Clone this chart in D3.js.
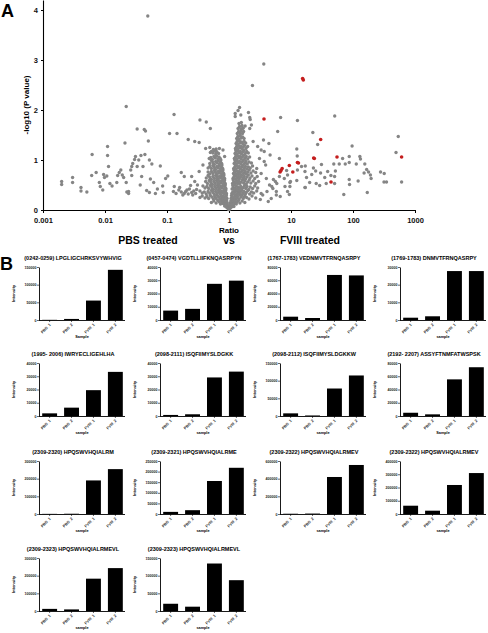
<!DOCTYPE html>
<html><head><meta charset="utf-8">
<script src="https://cdn.jsdelivr.net/npm/d3@7"></script>
<style>
html,body{margin:0;padding:0;background:#fff;}
svg{display:block;font-family:"Liberation Sans",Arial,sans-serif;}
</style></head><body>
<svg id="fig" width="488" height="633"></svg>
<script>
// ---------- Panel A data ----------
const xTickValues = [0.001, 0.01, 0.1, 1, 10, 100, 1000];
const xTickLabels = ["0.001", "0.01", "0.1", "1", "10", "100", "1000"];
const yTickValues = [0, 1, 2, 3, 4];

// sparse grey peptides [ratio, -log10 p]
const sparseGray = [
[0.049,3.88],[0.022,2.07],[0.0020,0.57],[0.0020,0.51],[0.0030,0.65],[0.0030,0.55],[0.0041,0.45],[0.0041,0.38],[0.0051,0.36],[0.0062,1.11],[0.0061,0.69],[0.0072,0.75],[0.0081,0.55],[0.0084,0.47],[0.0092,0.40],[0.0095,0.71],[0.0098,0.65],[0.0107,0.68],[0.011,1.27],[0.011,1.09],[0.0114,0.87],[0.012,0.53],[0.013,0.48],[0.0155,0.55],[0.016,0.69],[0.017,0.75],[0.018,0.80],[0.019,0.70],[0.020,0.65],[0.021,1.34],[0.022,0.55],[0.0225,0.36],[0.024,0.33],[0.024,0.37],[0.026,0.80],[0.027,0.69],[0.028,0.93],[0.027,0.87],[0.030,1.01],[0.031,1.07],[0.033,1.62],[0.033,0.87],[0.035,1.0],[0.037,0.50],[0.038,1.09],[0.039,0.67],[0.041,0.87],[0.043,1.61],[0.044,1.11],[0.045,1.58],[0.047,0.39],[0.050,1.38],[0.052,1.00],[0.054,0.62],[0.057,0.92],[0.052,0.35],[0.061,0.55],[0.065,0.33],[0.07,0.42],[0.078,0.88],[0.085,0.48],[0.087,0.35],[0.095,0.63],[0.103,0.68],[0.11,1.53],[0.13,1.91],[0.131,0.47],[0.145,1.53],[0.16,0.45],[0.17,0.75],[0.19,0.33],[0.21,0.40],[0.22,1.41],[0.24,0.49],[0.28,1.37],[0.33,1.35],[0.34,1.80],[0.43,1.76],[0.50,1.63],[0.30,0.41],[0.25,0.35],
[0.127,0.37],[0.14,0.33],[0.155,0.40],[0.17,0.36],[0.18,0.30],[0.2,0.37],[0.22,0.32],[0.23,0.42],[0.26,0.30],[0.27,0.38],[0.29,0.33],
[0.42,1.23],[0.49,1.25],[0.62,1.17],[0.7,1.23],[0.8,1.2],[0.85,1.07],[0.38,0.9],[0.33,0.77],[0.19,0.67],[0.25,0.67],[0.28,0.57],[0.31,0.5],
[3.64,2.92],[2.39,2.49],[6.8,1.85],[12.7,1.79],[50.7,1.88],[6.1,1.57],[22.5,1.55],[26.9,1.31],[96.7,1.28],[537,1.47],[494,1.15],[12.4,1.22],[12.6,1.08],[6.5,1.03],[87,1.07],[129,1.07],[132,1.02],[113,0.92],[87,0.95],[68,1.03],[75,0.92],[49,0.92],[60,0.92],[31,0.91],[17,0.88],[155,0.92],[166,0.81],[178,0.76],[191,0.70],[196,0.63],[151,0.74],[278,0.76],[319,0.73],[316,0.56],[347,0.56],[608,0.56],[170,0.35],[71,0.31],[121,0.58],[87,0.61],[88,0.51],[50.5,0.67],[52,0.78],[39,0.77],[44,0.69],[35,0.65],[37,0.53],[50.5,0.53],[30,0.74],[25,0.78],[23,0.84],[21.6,0.71],[17.8,0.65],[16.8,0.77],[14.8,0.87],[12.7,0.80],[20,0.55],[25.5,0.53],[29,0.49],[16.8,0.45],[12.4,0.59],[9.6,0.55],[8.5,0.79],[8.8,0.70],[7.8,0.63],[6.5,0.67],[5.9,0.53],[5.2,0.61],[8.0,0.47],[9.6,0.47],[6.7,0.27],[8.8,0.37],[9.4,0.31],[17,0.45],[9.8,0.57],[5.8,0.30],
[1.48,2.05],[1.40,1.99],[2.06,1.95],[1.26,1.93],[1.26,1.87],[1.55,1.9],[2.16,1.85],[2.2,1.81],[2.3,1.7],[1.82,1.68],[1.65,1.63],[2.16,1.63],[2.45,1.37],[2.9,1.27],[3.3,1.2],[3.7,1.17],[3.1,1.03],[3.7,0.97],[2.8,0.83],[3.3,0.73],[4.0,0.63],[4.5,0.5],[5.1,0.43],[5.8,0.37],[3.5,0.3],[4.3,0.17],[4.8,0.23],[4.4,1.33],[3.6,1.4],[4.1,0.37],[4.9,0.47],[5.6,0.57],[3.9,0.9],[4.6,1.1]
];

// dense cluster, ratio > 1  [ratio, -log10 p]
const clusterRight = [
[1.01,0.01],[1.02,0.04],[1.04,0.03],[1.03,0.07],[1.06,0.05],[1.05,0.09],[1.08,0.08],[1.1,0.06],[1.07,0.11],[1.12,0.1],[1.15,0.09],[1.2,0.07],
[1.05,0.14],[1.09,0.13],[1.11,0.16],[1.14,0.12],[1.18,0.15],[1.07,0.18],[1.13,0.19],[1.22,0.13],[1.26,0.17],[1.31,0.12],[1.19,0.2],[1.35,0.16],[1.42,0.19],[1.5,0.14],[1.63,0.18],[1.28,0.21],[1.8,0.15],
[1.08,0.23],[1.12,0.26],[1.16,0.22],[1.21,0.25],[1.25,0.28],[1.33,0.24],[1.38,0.27],[1.46,0.22],[1.55,0.26],[1.6,0.29],[1.7,0.23],[1.78,0.27],[1.92,0.25],[2.1,0.22],[2.35,0.28],[2.7,0.24],[3.2,0.21],[1.1,0.29],[1.3,0.3],
[1.11,0.33],[1.15,0.36],[1.19,0.32],[1.23,0.35],[1.28,0.38],[1.36,0.33],[1.41,0.37],[1.48,0.31],[1.52,0.35],[1.59,0.39],[1.67,0.33],[1.74,0.37],[1.83,0.31],[1.9,0.35],[2.02,0.39],[2.15,0.32],[2.3,0.36],[2.5,0.34],[2.8,0.38],[3.3,0.33],[1.32,0.4],[1.45,0.39],
[1.12,0.42],[1.17,0.45],[1.21,0.41],[1.26,0.44],[1.31,0.48],[1.35,0.42],[1.4,0.46],[1.47,0.43],[1.55,0.47],[1.62,0.42],[1.7,0.45],[1.78,0.49],[1.86,0.43],[1.95,0.47],[2.08,0.41],[2.2,0.46],[2.4,0.43],[2.6,0.48],[2.9,0.44],[1.15,0.49],[1.25,0.5],
[1.14,0.53],[1.19,0.56],[1.23,0.52],[1.29,0.55],[1.33,0.59],[1.38,0.53],[1.44,0.57],[1.5,0.52],[1.57,0.56],[1.65,0.6],[1.72,0.54],[1.8,0.58],[1.9,0.52],[2.0,0.56],[2.12,0.6],[2.25,0.54],[2.45,0.58],[2.7,0.53],[3.0,0.57],[1.17,0.6],
[1.16,0.63],[1.2,0.66],[1.25,0.62],[1.3,0.68],[1.35,0.64],[1.41,0.67],[1.47,0.62],[1.53,0.66],[1.6,0.69],[1.68,0.63],[1.76,0.67],[1.85,0.62],[1.95,0.66],[2.05,0.7],[2.18,0.64],[2.35,0.68],[2.6,0.63],[2.85,0.67],[1.22,0.7],[1.43,0.71],
[1.18,0.73],[1.23,0.76],[1.28,0.72],[1.33,0.78],[1.39,0.74],[1.45,0.77],[1.51,0.72],[1.58,0.76],[1.65,0.79],[1.72,0.73],[1.81,0.77],[1.9,0.72],[2.0,0.76],[2.12,0.8],[2.25,0.74],[2.45,0.78],[2.7,0.75],[1.2,0.8],
[1.19,0.83],[1.24,0.86],[1.29,0.82],[1.34,0.88],[1.4,0.84],[1.46,0.87],[1.53,0.82],[1.6,0.86],[1.67,0.89],[1.75,0.83],[1.84,0.87],[1.93,0.82],[2.05,0.86],[2.2,0.84],[2.4,0.88],[1.27,0.9],
[1.21,0.93],[1.26,0.96],[1.31,0.92],[1.36,0.98],[1.42,0.94],[1.48,0.97],[1.55,0.92],[1.62,0.96],[1.7,0.99],[1.78,0.93],[1.87,0.97],[1.97,0.92],[2.1,0.96],[2.3,0.94],[1.24,1.0],
[1.22,1.03],[1.27,1.06],[1.33,1.02],[1.38,1.08],[1.44,1.04],[1.5,1.07],[1.57,1.02],[1.64,1.06],[1.72,1.09],[1.8,1.03],[1.9,1.07],[2.0,1.02],[2.15,1.06],[1.3,1.1],
[1.25,1.13],[1.3,1.16],[1.35,1.12],[1.4,1.18],[1.46,1.14],[1.52,1.17],[1.59,1.12],[1.66,1.16],[1.74,1.19],[1.83,1.13],[1.93,1.17],[2.05,1.14],[1.28,1.2],
[1.27,1.23],[1.32,1.26],[1.38,1.22],[1.43,1.28],[1.49,1.24],[1.56,1.27],[1.63,1.22],[1.7,1.26],[1.78,1.29],[1.88,1.23],[2.0,1.27],[1.35,1.3],
[1.3,1.33],[1.35,1.37],[1.41,1.32],[1.47,1.38],[1.53,1.34],[1.6,1.36],[1.68,1.32],[1.76,1.37],[1.86,1.34],[1.44,1.4],
[1.33,1.43],[1.39,1.47],[1.45,1.42],[1.52,1.48],[1.58,1.44],[1.66,1.46],[1.75,1.43],[1.5,1.5],
[1.36,1.53],[1.43,1.57],[1.5,1.54],[1.57,1.58],[1.65,1.53],[1.72,1.57],
[1.4,1.63],[1.48,1.67],[1.55,1.62],[1.62,1.69],[1.7,1.64],[1.45,1.73],[1.58,1.75]
];

// dense cluster, ratio < 1  [ratio, -log10 p]
const clusterLeft = [
[0.99,0.01],[0.98,0.04],[0.96,0.03],[0.97,0.07],[0.94,0.05],[0.95,0.09],[0.92,0.08],[0.9,0.06],[0.93,0.11],[0.88,0.1],[0.85,0.08],
[0.94,0.14],[0.91,0.13],[0.89,0.16],[0.86,0.12],[0.83,0.15],[0.92,0.18],[0.87,0.19],[0.8,0.13],[0.77,0.17],[0.73,0.12],[0.82,0.2],[0.7,0.16],[0.66,0.19],[0.62,0.14],[0.57,0.18],[0.75,0.21],[0.52,0.15],
[0.93,0.23],[0.9,0.26],[0.87,0.22],[0.84,0.25],[0.81,0.28],[0.78,0.24],[0.75,0.27],[0.71,0.22],[0.68,0.26],[0.65,0.29],[0.62,0.23],[0.59,0.27],[0.56,0.22],[0.53,0.26],[0.5,0.29],[0.47,0.23],[0.44,0.27],[0.41,0.24],[0.37,0.28],[0.34,0.25],[0.91,0.3],
[0.91,0.33],[0.88,0.36],[0.85,0.32],[0.82,0.38],[0.79,0.34],[0.76,0.37],[0.73,0.31],[0.7,0.35],[0.67,0.39],[0.64,0.33],[0.61,0.37],[0.58,0.31],[0.55,0.35],[0.52,0.39],[0.49,0.33],[0.46,0.37],[0.43,0.32],[0.4,0.36],[0.37,0.34],[0.34,0.38],[0.89,0.4],
[0.89,0.43],[0.86,0.46],[0.83,0.42],[0.8,0.48],[0.77,0.44],[0.74,0.47],[0.71,0.41],[0.68,0.45],[0.65,0.49],[0.62,0.43],[0.59,0.47],[0.56,0.41],[0.53,0.45],[0.5,0.49],[0.47,0.43],[0.44,0.47],[0.41,0.44],[0.38,0.48],[0.87,0.5],
[0.87,0.53],[0.84,0.56],[0.81,0.52],[0.78,0.58],[0.75,0.54],[0.72,0.57],[0.69,0.51],[0.66,0.55],[0.63,0.59],[0.6,0.53],[0.57,0.57],[0.54,0.51],[0.51,0.55],[0.48,0.59],[0.45,0.53],[0.42,0.57],[0.85,0.6],
[0.85,0.63],[0.82,0.66],[0.79,0.62],[0.76,0.68],[0.73,0.64],[0.7,0.67],[0.67,0.61],[0.64,0.65],[0.61,0.69],[0.58,0.63],[0.55,0.67],[0.52,0.61],[0.49,0.65],[0.46,0.69],[0.43,0.64],[0.83,0.7],
[0.82,0.73],[0.79,0.76],[0.76,0.72],[0.73,0.78],[0.7,0.74],[0.67,0.77],[0.64,0.71],[0.61,0.75],[0.58,0.79],[0.55,0.73],[0.52,0.77],[0.49,0.72],[0.46,0.76],[0.8,0.8],
[0.79,0.83],[0.76,0.86],[0.73,0.82],[0.7,0.88],[0.67,0.84],[0.64,0.87],[0.61,0.81],[0.58,0.85],[0.55,0.89],[0.52,0.83],[0.49,0.87],[0.46,0.84],[0.77,0.9],
[0.76,0.93],[0.73,0.96],[0.7,0.92],[0.67,0.98],[0.64,0.94],[0.61,0.97],[0.58,0.91],[0.55,0.95],[0.52,0.99],[0.49,0.93],[0.74,1.0],
[0.72,1.03],[0.69,1.06],[0.66,1.02],[0.63,1.08],[0.6,1.04],[0.57,1.07],[0.54,1.01],[0.51,1.05],[0.48,1.03],
[0.68,1.13],[0.64,1.16],[0.61,1.12],[0.58,1.18],[0.55,1.14],[0.52,1.17],[0.62,1.22],[0.56,1.21],[0.5,1.15]
];

// highlighted (FVIII-derived) peptides
const redPoints = [
[3.67,1.82],[15.4,2.63],[15.8,2.60],[30.1,1.41],[23.2,1.04],[23.8,1.03],[55.2,1.06],[608,1.06],[6.67,0.76],[7.2,0.83],[6.9,0.79],[9.4,0.89],[10.7,0.76],[12.7,0.95],[13.2,0.94],[44.2,0.56]
];

// ---------- Panel B data ----------
const samples = ["PBS_1", "PBS_2", "FVIII_1", "FVIII_2"];
const peptideTitles = [
"(0242-0259) LPGLIGCHRKSVYWHVIG","(0457-0474) VGDTLLIIFKNQASRPYN","(1767-1783) VEDNMVTFRNQASRPY","(1769-1783) DNMVTFRNQASRPY",
"(1995- 2006) IWRYECLIGEHLHA","(2098-2111) ISQFIIMYSLDGKK","(2098-2112) ISQFIIMYSLDGKKW","(2192- 2207) ASSYFTNMFATWSPSK",
"(2309-2320) HPQSWVHQIALRM","(2309-2321) HPQSWVHQIALRME","(2309-2322) HPQSWVHQIALRMEV","(2309-2322) HPQSWVHQIALRMEV",
"(2309-2323) HPQSWVHQIALRMEVL","(2309-2323) HPQSWVHQIALRMEVL"];
const intensities = [
[500,3000,55000,142000],
[7100,8400,27300,29700],
[5000,3000,68000,67300],
[1300,2100,27700,27700],
[2000,6300,19500,33300],
[800,1300,29100,33500],
[7500,1500,77800,114700],
[4900,2500,55300,73600],
[800,1500,190000,254000],
[10000,18000,155700,218000],
[3000,5000,419000,555000],
[62600,25000,219000,309000],
[12000,9000,183000,242800],
[20500,12200,134400,87200]];
const yAxisMax = [150000,40000,80000,30000,40000,40000,150000,80000,300000,250000,600000,400000,300000,150000];
const yAxisStep = [50000,10000,20000,10000,10000,10000,50000,20000,100000,50000,200000,100000,100000,50000];
const xAxisTitles = ["Sample","sample","sample","sample","sample","sample","sample","Sample","sample","sample","sample","sample","sample","sample"];

// ---------- drawing ----------
const svg = d3.select("#fig");
const FONT = '"Liberation Sans",Arial,sans-serif';

// Panel A
const gA = svg.append("g");
const x = d3.scaleLog().domain([0.001, 1000]).range([43, 415]);
const y = d3.scaleLinear().domain([0, 4.2]).range([210, 0]);

gA.append("text").attr("x", 1).attr("y", 17).attr("font-size", 18).attr("font-weight", "bold").text("A");

const xAxis = gA.append("g").attr("transform", "translate(0,210)")
  .call(d3.axisBottom(x).tickValues(xTickValues).tickFormat((d, i) => xTickLabels[i]).tickSize(3).tickSizeOuter(0));
const yAxis = gA.append("g").attr("transform", "translate(43,0)")
  .call(d3.axisLeft(y).tickValues(yTickValues).tickFormat(d3.format("d")).tickSize(2).tickSizeOuter(0));
[xAxis, yAxis].forEach(a => {
  a.select(".domain").attr("stroke", "#000").attr("stroke-width", 1.1);
  a.selectAll(".tick line").attr("stroke", "#000").attr("stroke-width", 1);
  a.selectAll(".tick text").attr("font-size", 7.5).attr("font-weight", "bold").attr("font-family", FONT).attr("fill", "#111");
});
xAxis.selectAll(".tick text").attr("dy", "0.9em");

gA.append("text").attr("transform", "translate(29,105) rotate(-90)").attr("text-anchor", "middle")
  .attr("font-size", 8).attr("font-weight", "bold").text("-log10 (P value)");
gA.append("text").attr("x", 229).attr("y", 233).attr("text-anchor", "middle")
  .attr("font-size", 8).attr("font-weight", "bold").text("Ratio");
[["PBS treated", 148], ["vs", 229], ["FVIII treated", 310]].forEach(([t, cx]) => {
  gA.append("text").attr("x", cx).attr("y", 244).attr("text-anchor", "middle")
    .attr("font-size", 10.5).attr("font-weight", "bold").text(t);
});

const grayAll = sparseGray.concat(clusterRight, clusterLeft);
gA.append("g").selectAll("circle").data(grayAll).join("circle")
  .attr("cx", d => x(d[0])).attr("cy", d => y(d[1])).attr("r", 1.7).attr("fill", "#858585");
gA.append("g").selectAll("circle").data(redPoints).join("circle")
  .attr("cx", d => x(d[0])).attr("cy", d => y(d[1])).attr("r", 1.8).attr("fill", "#c41e1e");

// Panel B
svg.append("text").attr("x", 0).attr("y", 270).attr("font-size", 18).attr("font-weight", "bold").text("B");

const colAxisX = [39, 160, 280, 400];
const rowTop = [267, 363, 461, 558];
const plotH = 53, plotW = 86;

peptideTitles.forEach((title, i) => {
  const col = i % 4, row = Math.floor(i / 4);
  const ax = colAxisX[col], top = rowTop[row], base = top + plotH;
  const g = svg.append("g");
  const xb = d3.scaleBand().domain(samples).range([ax + 1, ax + plotW]).paddingInner(0.32).paddingOuter(0.1);
  const yb = d3.scaleLinear().domain([0, yAxisMax[i]]).range([base, top]);
  const ticks = d3.range(0, yAxisMax[i] + 1, yAxisStep[i]);

  g.selectAll("rect").data(intensities[i]).join("rect")
    .attr("x", (d, j) => xb(samples[j])).attr("width", xb.bandwidth())
    .attr("y", d => yb(d)).attr("height", d => base - yb(d)).attr("fill", "#000");

  const ya = g.append("g").attr("transform", `translate(${ax},0)`)
    .call(d3.axisLeft(yb).tickValues(ticks).tickFormat(d3.format("d")).tickSize(2).tickSizeOuter(0));
  ya.selectAll(".tick text").attr("font-size", 3.6).attr("font-weight", "bold").attr("font-family", FONT).attr("x", -2.5);
  const xa = g.append("g").attr("transform", `translate(0,${base})`)
    .call(d3.axisBottom(xb).tickSize(2).tickSizeOuter(0));
  xa.select(".domain").attr("d", `M${ax},0.5H${ax + plotW}`);
  xa.selectAll(".tick text").attr("font-size", 3.9).attr("font-weight", "bold").attr("font-family", FONT)
    .attr("text-anchor", "end").attr("dy", 0).attr("y", 0)
    .attr("transform", "translate(1.5,5) rotate(-45)");
  [ya, xa].forEach(a => {
    a.select(".domain").attr("stroke", "#000").attr("stroke-width", 0.9);
    a.selectAll(".tick line").attr("stroke", "#000").attr("stroke-width", 0.6);
    a.selectAll(".tick text").attr("fill", "#222");
  });

  g.append("text").attr("x", ax + 34).attr("y", top - 7).attr("text-anchor", "middle")
    .attr("font-size", 5.5).attr("font-weight", "bold").text(title);
  g.append("text").attr("transform", `translate(${ax - 24},${top + plotH / 2}) rotate(-90)`).attr("text-anchor", "middle")
    .attr("font-size", 4.2).attr("font-weight", "bold").text("Intensity");
  g.append("text").attr("x", ax + plotW / 2).attr("y", base + 18).attr("text-anchor", "middle")
    .attr("font-size", 3.8).attr("font-weight", "bold").text(xAxisTitles[i]);
});
</script>
</body></html>
